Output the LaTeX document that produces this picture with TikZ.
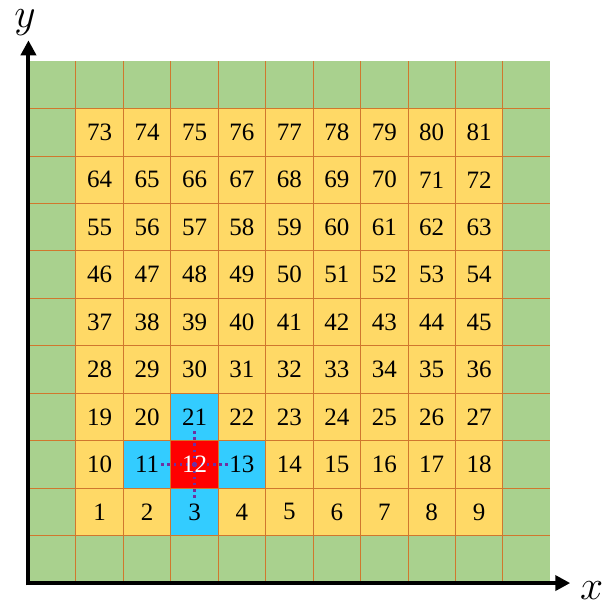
\documentclass[tikz,border=0pt]{standalone}
\usepackage{fontspec}
\setmainfont{Liberation Serif}
\usetikzlibrary{arrows.meta}
\definecolor{edgegreen}{HTML}{A9D18E}
\definecolor{innercell}{HTML}{FFD966}
\definecolor{nbcell}{HTML}{33CCFF}
\definecolor{gridline}{HTML}{D0772E}
\definecolor{linkpurple}{HTML}{7030A0}

\begin{document}
\begin{tikzpicture}[x=1cm,y=1cm,
    num/.style={font=\fontsize{15}{15}\selectfont},
    axislab/.style={inner sep=0pt},
    axis/.style={line width=2.4pt,-{Triangle[length=9pt,width=9pt]}},
    link/.style={linkpurple,line width=1.5pt,dash pattern=on 1.5pt off 2.2pt}]
  \useasboundingbox (-0.60,-0.61) rectangle (12.17,12.29);
  % cells
  \fill[edgegreen] (0,0) rectangle (11,11);
  \fill[innercell] (1,1) rectangle (10,10);
  \fill[nbcell] (3,1) rectangle (4,4) (2,2) rectangle (5,3);
  \fill[red] (3,2) rectangle (4,3);
  \foreach \i in {1,...,10} {
    \draw[gridline,line width=0.6pt] (\i,0) -- (\i,11);
    \draw[gridline,line width=0.6pt] (0,\i) -- (11,\i);
  }
  % neighbours of 12
  \coordinate (mid) at (3.5,2.5);
  \coordinate (west) at (2.75,2.5);
  \coordinate (east) at (4.25,2.5);
  \coordinate (north) at (3.5,3.25);
  \coordinate (south) at (3.5,1.75);
  \foreach \p in {west,east,north,south}
    \draw[link] (mid) -- (\p);
  % numbers
  \foreach \r in {1,...,9}
    \foreach \c in {1,...,9} {
      \pgfmathtruncatemacro\k{(\r-1)*9+\c}
      \node[num] (n\k) at (\c+0.5,\r+0.5) {\ifnum\k=12 \color{white}\fi\k};
    }
  % axes
  \coordinate (o) at (-0.05,0);
  \coordinate (ox) at (0,-0.05);
  \coordinate (xend) at (11.42,0);
  \coordinate (yend) at (0,11.44);
  \draw[axis] (o) -- (xend);
  \draw[axis] (ox) -- (yend);
  \node[axislab,font=\fontsize{30}{30}\selectfont] (xlab) at (11.87,-0.15) {$x$};
  \node[axislab,font=\fontsize{32}{32}\selectfont] (ylab) at (-0.07,11.82) {$y$};
\end{tikzpicture}
\end{document}
